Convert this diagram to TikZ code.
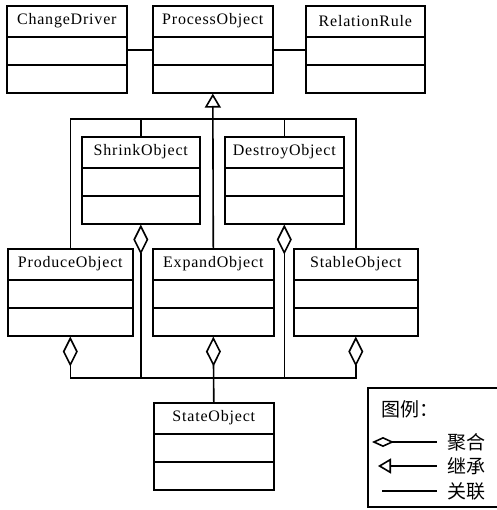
\documentclass[tikz,border=0pt]{standalone}
\usepackage{fontspec}
\setmainfont{Liberation Serif}[LetterSpace=5]
\newfontfamily\cjk{Noto Sans CJK SC}
\usetikzlibrary{arrows.meta,calc}

\tikzset{
  cls/.style={draw, line width=1.6pt, rectangle, anchor=north west, inner sep=0pt,
              minimum height=87pt},
  link/.style={line width=1.6pt},
  agg/.style={link, {Diamond[open, length=30pt, width=15pt, line width=1.6pt]}-},
  inherit/.style={link, -{Triangle[open, length=14pt, width=16pt, line width=1.6pt]}},
  lagg/.style={link, {Diamond[open, length=22pt, width=10pt, line width=1.6pt]}-},
  linherit/.style={link, {Triangle[open, length=13pt, width=15pt, line width=1.6pt]}-},
  ttl/.style={font=\fontsize{16}{18}\selectfont, inner sep=0pt},
  cn/.style={font=\cjk\fontsize{19}{21}\selectfont, inner sep=0pt, anchor=west},
}

% class box: name, x, y (top-left), width, title
\newcommand\classbox[5]{%
  \node[cls, minimum width=#4pt] (#1) at (#2,#3) {};
  \node[ttl] (#1-t) at ($(#1.north)+(0,16)$) {#5};
  \draw[link] ($(#1.north west)+(0,32)$) -- ($(#1.north east)+(0,32)$);
  \draw[link] ($(#1.north west)+(0,60)$) -- ($(#1.north east)+(0,60)$);
}

\begin{document}
\begin{tikzpicture}[x=1pt, y=-1pt]
\useasboundingbox (0,0) rectangle (496,510);

\classbox{cd}{6}{5}{120}{ChangeDriver}
\classbox{po}{152}{5}{120}{ProcessObject}
\classbox{rr}{305}{5}{119}{RelationRule}
\classbox{sh}{81}{136}{118}{ShrinkObject}
\classbox{de}{224}{136}{119}{DestroyObject}
\classbox{pd}{7}{248}{125}{ProduceObject}
\classbox{ex}{152}{248}{121}{ExpandObject}
\classbox{sb}{293}{248}{124}{StableObject}
\classbox{so}{153}{402}{120}{StateObject}

% associations
\draw[link] ($(cd.north east)+(0,45)$) -- ($(po.north west)+(0,45)$);
\draw[link] ($(po.north east)+(0,45)$) -- ($(rr.north west)+(0,45)$);

% generalisation
\coordinate (gen) at (212,119);
\draw[inherit] (ex.north) -- (po.south);
\draw[link] (pd.north) |- (gen);
\draw[link] (sb.north) |- (gen);
\draw[link] (sh.north) |- (gen);
\draw[link] (de.north) |- (gen);

% aggregation of StateObject
\coordinate (agg) at (212,378);
\draw[agg] (ex.south) -- (so.north);
\draw[agg] (pd.south) |- (agg);
\draw[agg] (sb.south) |- (agg);
\draw[agg] (sh.south) |- (agg);
\draw[agg] (de.south) |- (agg);

% legend
\draw[line width=1.6pt] (368,388) rectangle (498,507);
\node[cn] (lt) at (381,409) {图例：};
\coordinate (a1) at (372,442); \coordinate (a2) at (437,442);
\coordinate (b1) at (378,466); \coordinate (b2) at (437,466);
\coordinate (c1) at (382,491); \coordinate (c2) at (437,491);
\draw[lagg] (a1) -- (a2);
\draw[linherit] (b1) -- (b2);
\draw[link] (c1) -- (c2);
\node[cn] (la) at (447,442) {聚合};
\node[cn] (lb) at (447,466) {继承};
\node[cn] (lc) at (447,491) {关联};
\end{tikzpicture}
\end{document}
